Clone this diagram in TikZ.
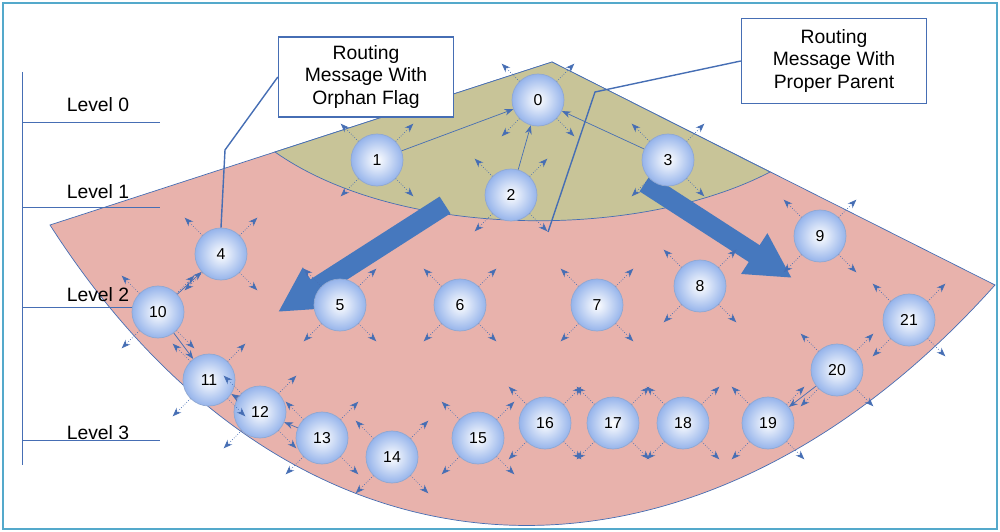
\documentclass[tikz,border=0pt]{standalone}
\usepackage{fontspec}
\setmainfont{Liberation Sans}
\usetikzlibrary{arrows.meta, positioning, calc}
\definecolor{fanpink}{RGB}{232,178,172}
\definecolor{fanolive}{RGB}{200,196,152}
\definecolor{edgeblue}{RGB}{70,110,180}
\definecolor{ballblue}{RGB}{150,180,235}
\definecolor{bigarrow}{RGB}{70,120,190}
\tikzset{
  sensor/.style = {draw = edgeblue!60, circle, minimum size = 10.4mm, inner sep = 0pt,
                   inner color = white, outer color = ballblue, font = \fontsize{9}{10}\selectfont},
  probe/.style = {draw = edgeblue, densely dotted, -{Stealth[length = 5pt]}},
  link/.style = {draw = edgeblue, -{Stealth[length = 5pt]}},
  callout/.style = {draw = edgeblue, thick, fill = white, align = center, inner sep = 3pt,
                    font = \fontsize{11}{13}\selectfont},
  level/.style = {font = \fontsize{11}{13}\selectfont}
}
\begin{document}
\begin{tikzpicture}[x = 0.2mm, y = -0.2mm]
                \useasboundingbox (0, 0) rectangle (1000, 532);
                \draw [cyan!60!gray, line width = 1.2pt] (3, 3) rectangle (997, 529);

                % the fan
                \draw [edgeblue, fill = fanpink] (50, 225) -- (552, 62) -- (995, 285)
                        .. controls (700, 615) and (300, 615) .. (50, 225) -- cycle;
                \draw [edgeblue, fill = fanolive] (275, 152) -- (552, 62) -- (770, 172)
                        .. controls (640, 240) and (400, 240) .. (275, 152) -- cycle;

                % levels
                \draw [edgeblue] (22, 72) -- (22, 465);
                \foreach \y in {122, 207, 307, 440}
                        \draw [edgeblue] (22, \y) -- (160, \y);
                \node [level] (L0) at (98, 105) {Level 0};
                \node [level] (L1) at (98, 192) {Level 1};
                \node [level] (L2) at (98, 295) {Level 2};
                \node [level] (L3) at (98, 433) {Level 3};

                % big arrows
                \coordinate (AL0) at (445, 205);
                \coordinate (AL1) at (278, 312);
                \coordinate (AR0) at (645, 183);
                \coordinate (AR1) at (792, 278);
                \draw [bigarrow, line width = 4mm, -{Triangle[length = 9mm, width = 9mm]}] (AL0) -- (AL1);
                \draw [bigarrow, line width = 4mm, -{Triangle[length = 9mm, width = 9mm]}] (AR0) -- (AR1);

                % sensors
                \foreach \n/\x/\y in {0/538/100, 1/377/160, 2/511/195, 3/668/160, 4/221/254,
                        5/340/305, 6/460/305, 7/597/305, 8/700/286, 9/820/236, 10/158/312,
                        11/209/380, 12/260/412, 13/322/438, 14/392/457, 15/478/438,
                        16/545/423, 17/613/423, 18/683/423, 19/768/423, 20/837/370, 21/909/320}
                        \node (N\n) [sensor] at (\x, \y) {\n};

                \foreach \n in {0, ..., 21}
                        \foreach \a in {45, 135, 225, 315}
                                \draw [probe] (N\n.\a) -- ++(\a:5mm);

                \draw [link] (N1) -- (N0);
                \draw [link] (N2) -- (N0);
                \draw [link] (N3) -- (N0);
                \draw [link] (N10) -- (N4);
                \draw [link] (N10) -- (N11);
                \draw [link] (N12) -- (N11);
                \draw [link] (N13) -- (N12);
                \draw [link] (N20) -- (N19);

                % callouts
                \node (Orphan) [callout, minimum width = 35mm, minimum height = 16mm] at (366, 77)
                        {Routing\\Message With\\Orphan Flag};
                \node (Proper) [callout, minimum width = 37mm, minimum height = 17mm] at (834, 61)
                        {Routing\\Message With\\Proper Parent};
                \coordinate (OrphanBend) at (225, 150);
                \coordinate (ProperBend) at (595, 92);
                \coordinate (ProperEnd) at (548, 232);
                \draw [edgeblue, thick] (Orphan.west) -- (OrphanBend) -- (N4.north);
                \draw [edgeblue, thick] (Proper.west) -- (ProperBend) -- (ProperEnd);
\end{tikzpicture}
\end{document}
